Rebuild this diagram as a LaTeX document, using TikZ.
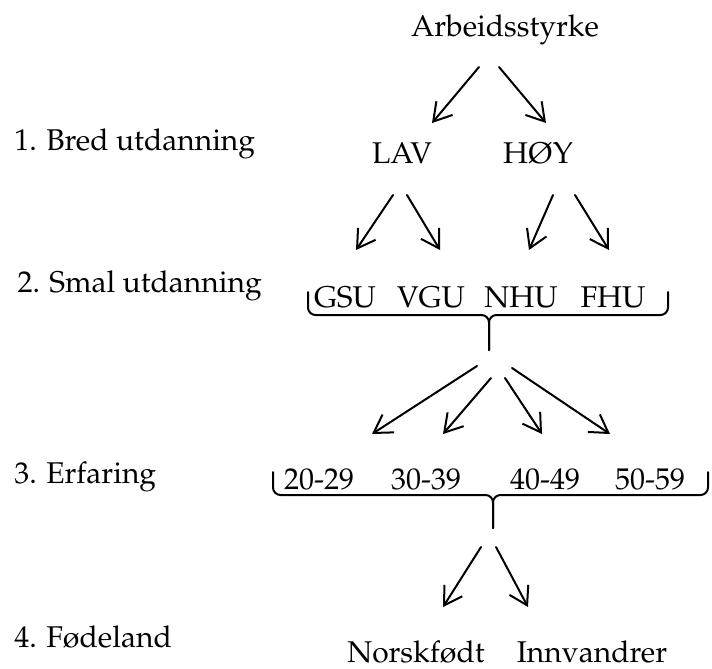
\documentclass[tikz,border=0pt]{standalone}
\usepackage[T1]{fontenc}
\usepackage{mathpazo}
\usetikzlibrary{arrows.meta}

\tikzset{
  pil/.style={-{Straight Barb[length=7pt,width=8.5pt,line width=0.8pt]},line width=0.8pt,line cap=round},
  klamme/.style={line width=0.8pt,rounded corners=3pt,line cap=round},
  tekst/.style={inner sep=0pt,anchor=base,font=\fontsize{12}{14}\selectfont},
  niva/.style={tekst,anchor=base west}
}

\begin{document}
\begin{tikzpicture}[x=0.4pt,y=-0.4pt]
	\useasboundingbox (0,0) rectangle (712,668);
	% nivaene til venstre
	\node[niva] (n1) at (14,150) {1. Bred utdanning};
	\node[niva] (n2) at (17,292) {2. Smal utdanning};
	\node[niva] (n3) at (14,483) {3. Erfaring};
	\node[niva] (n4) at (14,647) {4. Fødeland};
	% tre
	\node[tekst] (arb) at (505,36) {Arbeidsstyrke};
	\node[tekst] (lav) at (402,163) {LAV};
	\node[tekst] (hoy) at (538,163) {HØY};
	\node[tekst] (gsu) at (345,307) {GSU};
	\node[tekst] (vgu) at (431,307) {VGU};
	\node[tekst] (nhu) at (521,307) {NHU};
	\node[tekst] (fhu) at (613,307) {FHU};
	\node[tekst] (e20) at (319,489) {20-29};
	\node[tekst] (e30) at (426,489) {30-39};
	\node[tekst] (e40) at (545,489) {40-49};
	\node[tekst] (e50) at (650,489) {50-59};
	\node[tekst] (norsk) at (416,662) {Norskfødt};
	\node[tekst] (innv) at (592,662) {Innvandrer};
	% klammer
	\draw[klamme] (308,292) -- (308,315) -- (489,315) -- (489,350);
	\draw[klamme] (668,292) -- (668,315) -- (489,315) -- (489,350);
	\draw[klamme] (273,472) -- (273,495) -- (493,495) -- (493,528);
	\draw[klamme] (708,472) -- (708,495) -- (493,495) -- (493,528);
	% piler
	\coordinate (a1) at (479,67);  \coordinate (b1) at (432,123);
	\coordinate (a2) at (499,67);  \coordinate (b2) at (546,123);
	\coordinate (a3) at (393,195); \coordinate (b3) at (356,250);
	\coordinate (a4) at (407,195); \coordinate (b4) at (440,250);
	\coordinate (a5) at (553,195); \coordinate (b5) at (529,250);
	\coordinate (a6) at (575,195); \coordinate (b6) at (609,250);
	\coordinate (a7) at (477,366); \coordinate (b7) at (372,434);
	\coordinate (a8) at (491,378); \coordinate (b8) at (443,434);
	\coordinate (a9) at (505,378); \coordinate (b9) at (542,434);
	\coordinate (a10) at (512,368); \coordinate (b10) at (610,434);
	\coordinate (a11) at (481,547); \coordinate (b11) at (443,607);
	\coordinate (a12) at (496,547); \coordinate (b12) at (528,607);
	\foreach \i in {1,...,12}
		\draw[pil] (a\i) -- (b\i);
\end{tikzpicture}
\end{document}
